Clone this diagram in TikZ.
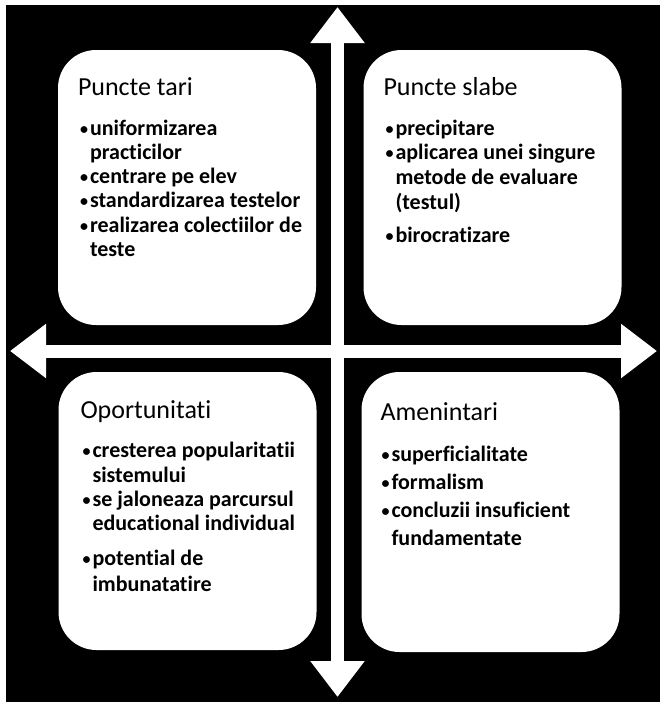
\documentclass[tikz,border=0pt]{standalone}
\usepackage{fontspec}
\setmainfont{Carlito}[Ligatures=NoCommon]
\usetikzlibrary{arrows.meta}

% bullet, then the lines of the item one under the other
\newcommand{\bul}[1]{\makebox[10pt][l]{\raisebox{1.5pt}{\fontsize{16}{16}\selectfont\textbullet}}\begin{tabular}[t]{@{}l@{}}#1\end{tabular}}

\begin{document}
\begin{tikzpicture}[x=1pt,y=-1pt,
    swotbox/.style={draw=none,fill=white,rounded corners=38pt,minimum width=258pt,inner sep=0pt},
    boxtitle/.style={anchor=base west,inner sep=0pt,font=\fontsize{26}{30}\selectfont},
    bullettxt/.style={anchor=base west,inner sep=0pt,font=\fontsize{22}{24}\selectfont\bfseries},
    bigarrow/.style={draw=white,line width=13pt,{Triangle[width=52pt,length=36pt]}-{Triangle[width=52pt,length=36pt]}}]
  \useasboundingbox (0,0) rectangle (660,702);
  \fill[white] (0,0) rectangle (660,702);
  \fill[black] (6,5) rectangle (660,702);

  % the four quadrants
  \node[swotbox,minimum height=275pt] (tari)  at (187,187.5) {};
  \node[swotbox,minimum height=275pt] (slabe) at (492.5,187.5) {};
  \node[swotbox,minimum height=278pt] (oport) at (187.5,511) {};
  \node[swotbox,minimum height=280pt] (amen)  at (490.5,512) {};

  % cross of arrows
  \coordinate (sus) at (337.5,7);
  \coordinate (jos) at (337.5,697);
  \coordinate (stg) at (10,351);
  \coordinate (dr)  at (657,351);
  \draw[bigarrow] (sus) -- (jos);
  \draw[bigarrow] (stg) -- (dr);

  % Puncte tari
  \node[boxtitle] (tariT) at ([xshift=20pt,yshift=-46pt]tari.north west) {Puncte tari};
  \node[bullettxt] (tari1) at ([xshift=22pt,yshift=-86pt]tari.north west) {\bul{uniformizarea\\practicilor}};
  \node[bullettxt] (tari2) at ([xshift=22pt,yshift=-134pt]tari.north west) {\bul{centrare pe elev}};
  \node[bullettxt] (tari3) at ([xshift=22pt,yshift=-158pt]tari.north west) {\bul{standardizarea testelor}};
  \node[bullettxt] (tari4) at ([xshift=22pt,yshift=-183pt]tari.north west) {\bul{realizarea colectiilor de\\teste}};

  % Puncte slabe
  \node[boxtitle] (slabeT) at ([xshift=20pt,yshift=-46pt]slabe.north west) {Puncte slabe};
  \node[bullettxt] (slabe1) at ([xshift=22pt,yshift=-86pt]slabe.north west) {\bul{precipitare}};
  \node[bullettxt,font=\fontsize{22}{25}\selectfont\bfseries] (slabe2)
    at ([xshift=22pt,yshift=-110pt]slabe.north west) {\bul{aplicarea unei singure\\metode de evaluare\\(testul)}};
  \node[bullettxt] (slabe3) at ([xshift=22pt,yshift=-193pt]slabe.north west) {\bul{birocratizare}};

  % Oportunitati
  \node[boxtitle] (oportT) at ([xshift=22pt,yshift=-47pt]oport.north west) {Oportunitati};
  \node[bullettxt,font=\fontsize{22}{25}\selectfont\bfseries] (oport1)
    at ([xshift=24pt,yshift=-86pt]oport.north west) {\bul{cresterea popularitatii\\sistemului}};
  \node[bullettxt] (oport2) at ([xshift=24pt,yshift=-135pt]oport.north west) {\bul{se jaloneaza parcursul\\educational individual}};
  \node[bullettxt,font=\fontsize{22}{26}\selectfont\bfseries] (oport3)
    at ([xshift=24pt,yshift=-194pt]oport.north west) {\bul{potential de\\imbunatatire}};

  % Amenintari
  \node[boxtitle] (amenT) at ([xshift=19pt,yshift=-49pt]amen.north west) {Amenintari};
  \node[bullettxt] (amen1) at ([xshift=20pt,yshift=-90pt]amen.north west) {\bul{superficialitate}};
  \node[bullettxt] (amen2) at ([xshift=20pt,yshift=-118pt]amen.north west) {\bul{formalism}};
  \node[bullettxt,font=\fontsize{22}{28}\selectfont\bfseries] (amen3)
    at ([xshift=20pt,yshift=-146pt]amen.north west) {\bul{concluzii insuficient\\fundamentate}};
\end{tikzpicture}
\end{document}
